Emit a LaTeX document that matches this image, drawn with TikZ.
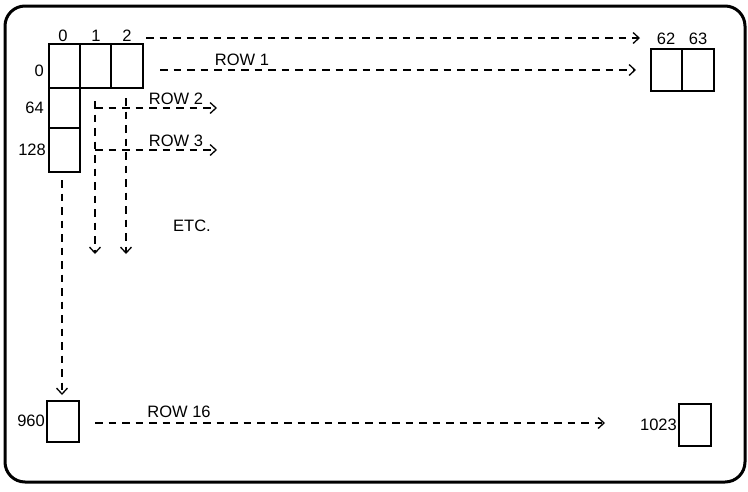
\documentclass[tikz,border=0pt]{standalone}
\usepackage{fontspec}
\setmainfont{Liberation Sans}
\usetikzlibrary{arrows.meta}
\begin{document}
\begin{tikzpicture}[x=1pt,y=-1pt,
  cell/.style={draw,line width=1.1pt,inner sep=0pt,minimum width=31pt,minimum height=42pt},
  lbl/.style={inner sep=0pt,font=\fontsize{16.5}{18}\selectfont},
  dsh/.style={line width=1.1pt,dash pattern=on 7.5pt off 6pt},
  arr/.style={dsh,-{Straight Barb[length=6pt,width=11pt,line width=1.3pt]}}]
\useasboundingbox (0,0) rectangle (748,491);
\draw[line width=3pt,rounded corners=20pt] (5,6) rectangle (745,482);
% cells
\node[cell,minimum height=44pt] (c0) at (64.5,66) {};
\node[cell,minimum height=44pt] (c1) at (95.5,66) {};
\node[cell,minimum width=32pt,minimum height=44pt] (c2) at (127,66) {};
\node[cell,minimum height=40pt] (c64) at (64.5,108) {};
\node[cell,minimum height=44pt] (c128) at (64.5,150) {};
\node[cell] (c62) at (666.5,70) {};
\node[cell,minimum width=32pt] (c63) at (698,70) {};
\node[cell,minimum width=32pt,minimum height=41pt] (c960) at (63,421.5) {};
\node[cell,minimum width=32pt] (c1023) at (695,425) {};
% labels
\node[lbl] (l0) at (63,36) {0};
\node[lbl] (l1) at (96,36) {1};
\node[lbl] (l2) at (127,36) {2};
\node[lbl,anchor=east] (r0) at (44,71) {0};
\node[lbl,anchor=east] (r64) at (44,108) {64};
\node[lbl,anchor=east] (r128) at (46,150) {128};
\node[lbl] (l62) at (666,39) {62};
\node[lbl] (l63) at (698,39) {63};
\node[lbl,anchor=east] (r960) at (45,421) {960};
\node[lbl,anchor=east] (r1023) at (677,425) {1023};
\node[lbl] (t1) at (242,60) {ROW 1};
\node[lbl] (t2) at (176,99) {ROW 2};
\node[lbl] (t3) at (176,141) {ROW 3};
\node[lbl] (etc) at (192,226) {ETC.};
\node[lbl] (t16) at (179,412) {ROW 16};
% coordinates
\coordinate (a1s) at (146,38);
\coordinate (a1e) at (640,38);
\coordinate (b1s) at (160,70);
\coordinate (b1e) at (636,70);
\coordinate (v1s) at (95,101);
\coordinate (v1e) at (95,254);
\coordinate (v2s) at (126,98);
\coordinate (v2e) at (126,254);
\coordinate (h2s) at (95,108);
\coordinate (h2e) at (217,108);
\coordinate (h3s) at (95,150);
\coordinate (h3e) at (217,150);
\coordinate (v0s) at (62,180);
\coordinate (v0e) at (62,395);
\coordinate (r16s) at (95,423);
\coordinate (r16e) at (605,423);
% connectors
\draw[arr] (a1s) -- (a1e);
\draw[arr] (b1s) -- (b1e);
\draw[arr] (v1s) -- (v1e);
\draw[arr] (v2s) -- (v2e);
\draw[arr] (h2s) -- (h2e);
\draw[arr] (h3s) -- (h3e);
\draw[arr] (v0s) -- (v0e);
\draw[arr] (r16s) -- (r16e);
\end{tikzpicture}
\end{document}
